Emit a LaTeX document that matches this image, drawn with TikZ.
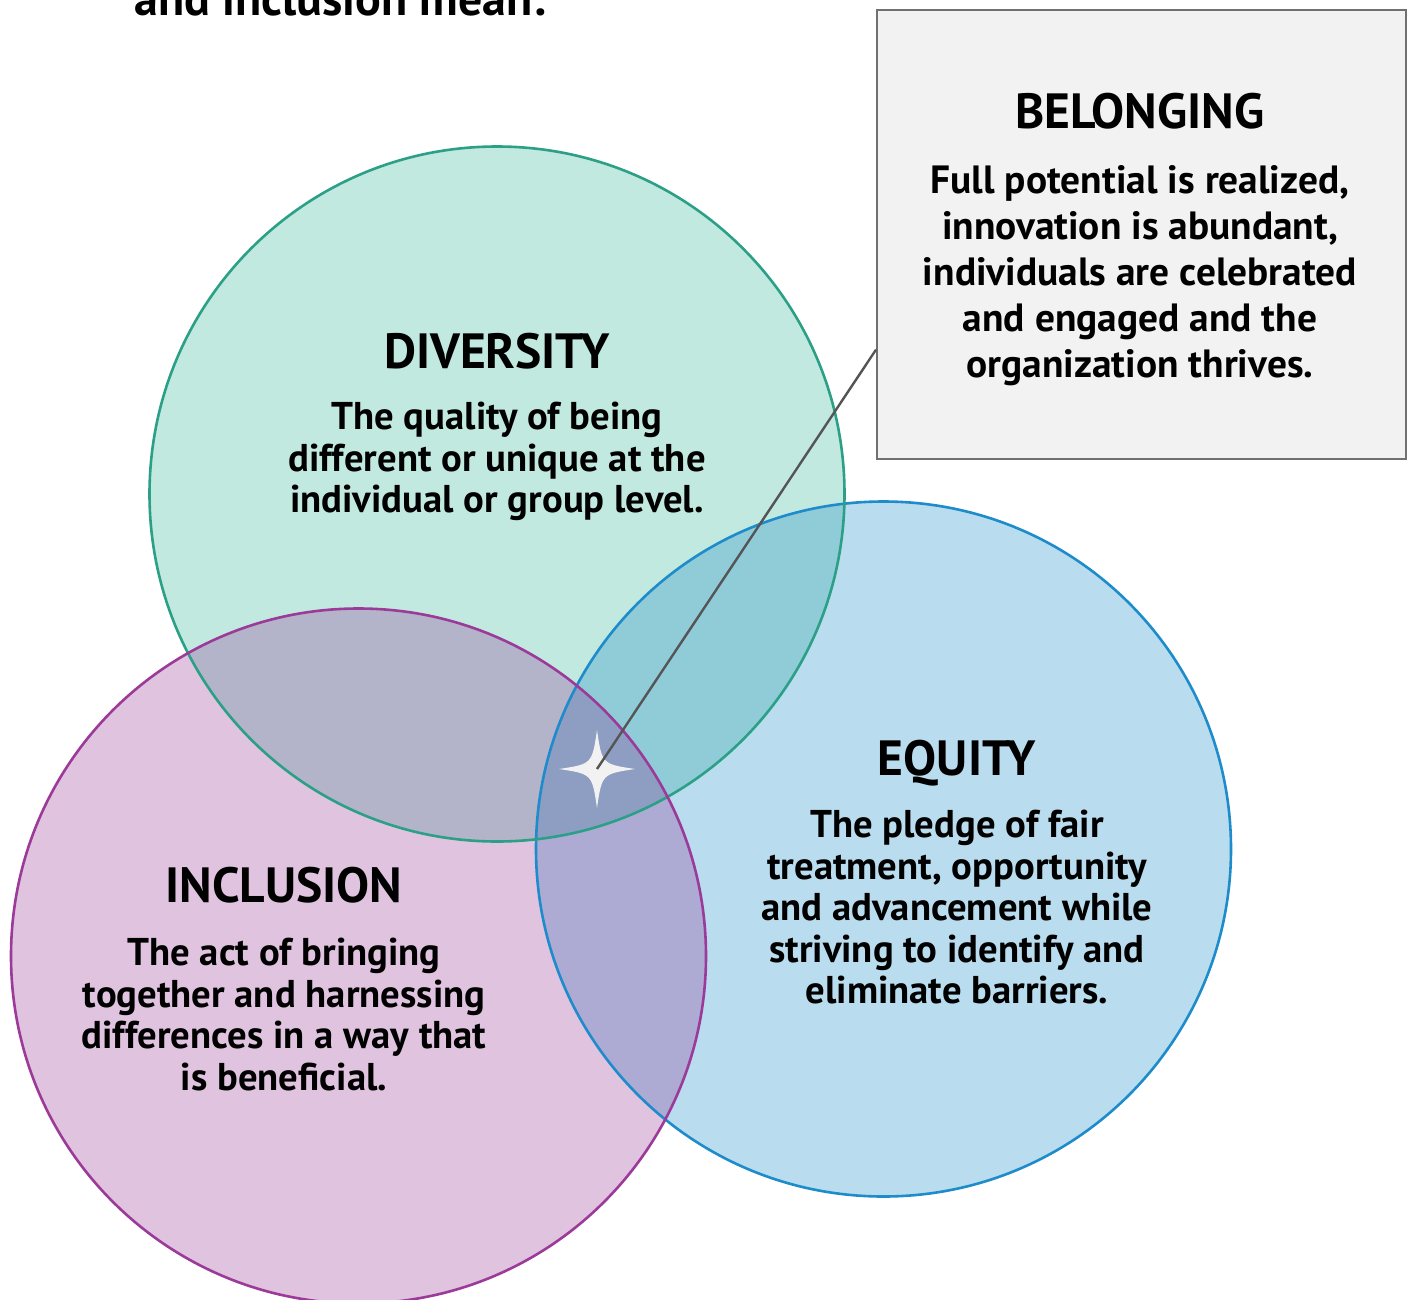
\documentclass[tikz,border=0pt]{standalone}
\usepackage{fontspec}
\setmainfont{PT Sans}
\usetikzlibrary{calc}
\definecolor{tealfill}{HTML}{C2E9E0}
\definecolor{tealline}{HTML}{2BA087}
\definecolor{bluefill}{HTML}{B9DDEE}
\definecolor{blueline}{HTML}{1E8BCB}
\definecolor{purplefill}{HTML}{E0C3DF}
\definecolor{purpleline}{HTML}{9C3A99}
\definecolor{dpfill}{HTML}{B3B3C9}
\definecolor{defill}{HTML}{90CCD8}
\definecolor{epfill}{HTML}{ADAAD3}
\definecolor{allfill}{HTML}{8E9EC2}
\definecolor{boxfill}{HTML}{F2F2F2}
\definecolor{boxline}{HTML}{707070}
\definecolor{leader}{HTML}{555555}
\begin{document}
\begin{tikzpicture}[x=1pt,y=-1pt,
  ring/.style={line width=2.6pt},
  headtxt/.style={font=\bfseries\fontsize{49.5}{52}\selectfont, inner sep=0pt, anchor=base},
  bodytxt/.style={font=\bfseries\fontsize{38.7}{41.5}\selectfont, inner sep=0pt, align=center, anchor=north},
  boxtxt/.style={font=\bfseries\fontsize{39.4}{46}\selectfont, inner sep=0pt, align=center, anchor=north}]
\useasboundingbox (0,0) rectangle (1408,1299);
\clip (0,0) rectangle (1408,1299);
\def\R{347.5}
\coordinate (D) at (497,494);
\coordinate (E) at (883.5,849);
\coordinate (I) at (358.5,956);
% title (cut off at top)
\node[font=\bfseries\fontsize{48}{52}\selectfont, inner sep=0pt, anchor=base] (title) at (340,15) {and inclusion mean:};
% base fills
\fill[tealfill] (D) circle[radius=\R];
\fill[bluefill] (E) circle[radius=\R];
\fill[purplefill] (I) circle[radius=\R];
\begin{scope}
  \clip (D) circle[radius=\R];
  \fill[dpfill] (I) circle[radius=\R];
  \fill[defill] (E) circle[radius=\R];
\end{scope}
\begin{scope}
  \clip (E) circle[radius=\R];
  \fill[epfill] (I) circle[radius=\R];
  \clip (D) circle[radius=\R];
  \fill[allfill] (I) circle[radius=\R];
\end{scope}
% outlines
\draw[ring, blueline] (E) circle[radius=\R];
\draw[ring, tealline] (D) circle[radius=\R];
\draw[ring, purpleline] (I) circle[radius=\R];
% star
\coordinate (starc) at (597,769);
\fill[boxfill] (597,730) .. controls (602,764) .. (635,769)
  .. controls (602,774) .. (597,808)
  .. controls (592,774) .. (559,769)
  .. controls (592,764) .. cycle;
% belonging box
\node[draw=boxline, fill=boxfill, line width=2.2pt, minimum width=529pt, minimum height=449pt, anchor=north west, inner sep=0pt] (box) at (876,9) {};
\coordinate (boxpin) at ($(box.north west)!0.755!(box.south west)$);
\draw[leader, line width=2.4pt] (starc) -- (boxpin);
% texts
\node[headtxt] (belh) at (1140,128) {BELONGING};
\node[boxtxt] (belb) at (1140,165) {Full potential is realized,\\innovation is abundant,\\individuals are celebrated\\and engaged and the\\organization thrives.};
\node[headtxt] (divh) at (497,368) {DIVERSITY};
\node[bodytxt] (divb) at (497,402) {The quality of being\\different or unique at the\\individual or group level.};
\node[headtxt] (equh) at (957,775) {EQUITY};
\node[bodytxt] (equb) at (957,810) {The pledge of fair\\treatment, opportunity\\and advancement while\\striving to identify and\\eliminate barriers.};
\node[headtxt] (inch) at (284,902) {INCLUSION};
\node[bodytxt] (incb) at (284,938) {The act of bringing\\together and harnessing\\differences in a way that\\is beneficial.};
\end{tikzpicture}
\end{document}
